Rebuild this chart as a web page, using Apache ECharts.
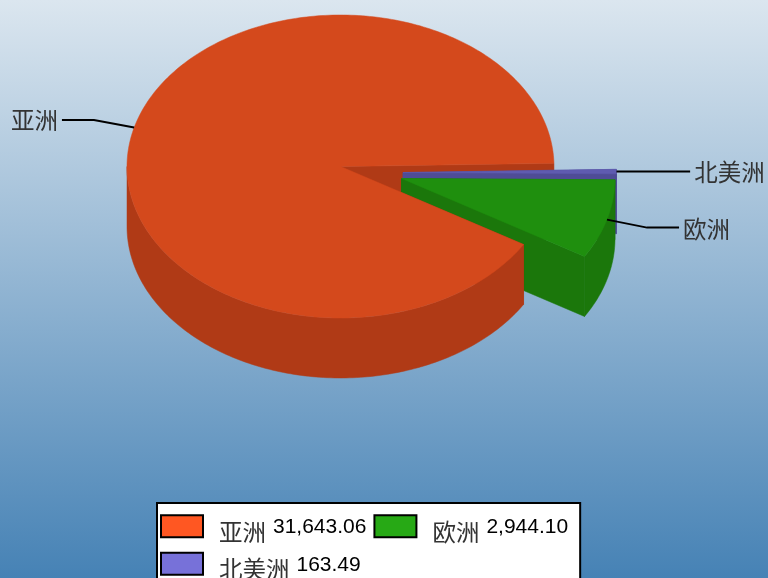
<!DOCTYPE html>
<html>
<head>
<meta charset="utf-8">
<style>
    html, body { margin: 0; padding: 0; }
    #container { width: 768px; height: 578px; }
</style>
<script src="https://cdn.jsdelivr.net/npm/echarts@6/dist/echarts.min.js"></script>
</head>
<body>
<div id="container"></div>
<script>
const regions = ['亚洲', '欧洲', '北美洲'];
const amounts = [31643.06, 2944.10, 163.49];

const topColors = ['#d4491c', '#1f8f0e', '#5f5bb0'];
const wallColors = ['#b03a16', '#1b770b', '#4f4c96'];
const legendColors = ['#ff5722', '#27a915', '#7771d9'];

// pie layout
const cx = 340.5, cy = 166.5, rx = 213.5, ry = 151.5, depth = 60;
const startAngle = -1.2;
const sliceOffsets = [[0, 0], [61, 12], [62.5, 6]];
const labelFont = '23.5px "Noto Sans CJK SC"';

const total = amounts.reduce(function (a, b) { return a + b; }, 0);

// screen angles run clockwise, slices are laid out counter-clockwise from startAngle
function sliceRange(i) {
    var before = 0;
    for (var k = 0; k < i; k++) before += amounts[k];
    var from = startAngle - (before + amounts[i]) / total * 360;
    var to = startAngle - before / total * 360;
    return [from, to];
}

function pt(deg, ox, oy, k, down) {
    var a = deg * Math.PI / 180;
    return [cx + ox + Math.cos(a) * rx * k, cy + oy + down + Math.sin(a) * ry * k];
}

function arc(from, to, ox, oy, down) {
    var pts = [];
    var n = Math.max(2, Math.ceil(Math.abs(to - from)));
    for (var j = 0; j <= n; j++) {
        pts.push(pt(from + (to - from) * j / n, ox, oy, 1, down));
    }
    return pts;
}

function poly(points, color) {
    return { type: 'polygon', shape: { points: points }, style: { fill: color, stroke: color, lineWidth: 0.5 } };
}

function radialWall(deg, ox, oy, color) {
    return poly([
        pt(deg, ox, oy, 0, 0), pt(deg, ox, oy, 1, 0),
        pt(deg, ox, oy, 1, depth), pt(deg, ox, oy, 0, depth)
    ], color);
}

// the part of the rim that faces the viewer
function frontWalls(from, to, ox, oy, color) {
    var out = [];
    for (var base = -720; base <= 360; base += 360) {
        var a = Math.max(from, base), b = Math.min(to, base + 180);
        if (b > a) {
            out.push(poly(arc(a, b, ox, oy, 0).concat(arc(b, a, ox, oy, depth)), color));
        }
    }
    return out;
}

function leader(i) {
    var r = sliceRange(i), mid = (r[0] + r[1]) / 2;
    var o = sliceOffsets[i];
    var p0 = pt(mid, o[0], o[1], 1, 0), p1 = pt(mid, o[0], o[1], 1.195, 0);
    var dir = Math.cos(mid * Math.PI / 180) >= 0 ? 1 : -1;
    var p2 = [p1[0] + dir * 32, p1[1]];
    return [
        { type: 'polyline', shape: { points: [p0, p1, p2] }, style: { stroke: '#000', lineWidth: 2, fill: null } },
        {
            type: 'text',
            style: {
                x: p2[0] + dir * 4, y: p1[1] + (dir > 0 ? 1 : 0), text: regions[i], font: labelFont, fill: '#333',
                align: dir > 0 ? 'left' : 'right', verticalAlign: 'middle'
            }
        }
    ];
}

function renderSlice(params, api) {
    var i = params.seriesIndex - 1;
    var r = sliceRange(i), o = sliceOffsets[i];
    var kids = [];
    // red back face goes in its own series, under the exploded slices
    kids.push(radialWall(r[0], o[0], o[1], wallColors[i]));
    if (i > 0) kids.push(radialWall(r[1], o[0], o[1], wallColors[i]));
    kids = kids.concat(frontWalls(r[0], r[1], o[0], o[1], wallColors[i]));
    var top = [pt(r[0], o[0], o[1], 0, 0)].concat(arc(r[0], r[1], o[0], o[1], 0));
    kids.push(poly(top, topColors[i]));
    kids = kids.concat(leader(i));
    return { type: 'group', children: kids };
}

function renderBackFace() {
    var r = sliceRange(0);
    return { type: 'group', children: [radialWall(r[1], 0, 0, wallColors[0])] };
}

function fmt(v) {
    return v.toLocaleString('en-US', { minimumFractionDigits: 2, maximumFractionDigits: 2 });
}

var dom = document.getElementById('container');
var myChart = echarts.init(dom, null, { renderer: 'canvas' });

var series = [{
    type: 'custom', name: 'back', coordinateSystem: 'none', silent: true, z: 1,
    renderItem: renderBackFace, data: [[amounts[0]]]
}];
// paint order: 北美洲, 欧洲, then 亚洲 on top
var zOrder = [4, 3, 2];
for (var i = 0; i < regions.length; i++) {
    series.push({
        type: 'custom', name: regions[i], coordinateSystem: 'none', z: zOrder[i],
        itemStyle: { color: legendColors[i] },
        renderItem: renderSlice, data: [[amounts[i]]]
    });
}

var option = {
    animation: false,
    backgroundColor: new echarts.graphic.LinearGradient(0, 0, 0, 1, [
        { offset: 0, color: '#dbe6ef' },
        { offset: 1, color: '#4682b5' }
    ]),
    legend: {
        left: 157, top: 503, width: 426,
        orient: 'horizontal',
        padding: [6, 8, 10, 3],
        itemGap: 3, itemWidth: 42, itemHeight: 22,
        backgroundColor: '#fff', borderColor: '#000', borderWidth: 2, borderRadius: 0,
        selectedMode: false,
        data: regions.map(function (name, i) {
            return { name: name, icon: 'rect', itemStyle: { color: legendColors[i], borderColor: '#000', borderWidth: 2 } };
        }),
        formatter: function (name) {
            return '{n|' + name + '}{v|' + fmt(amounts[regions.indexOf(name)]) + '}';
        },
        textStyle: {
            rich: {
                n: { fontFamily: 'Noto Sans CJK SC', fontSize: 23.5, color: '#333', lineHeight: 20, padding: [11, 7, 0, 11] },
                v: { fontFamily: 'Liberation Sans', fontSize: 21, color: '#000', lineHeight: 20, padding: [2, 4, 0, 0] }
            }
        }
    },
    series: series
};

if (option && typeof option === 'object') {
    myChart.setOption(option);
}
</script>
</body>
</html>
